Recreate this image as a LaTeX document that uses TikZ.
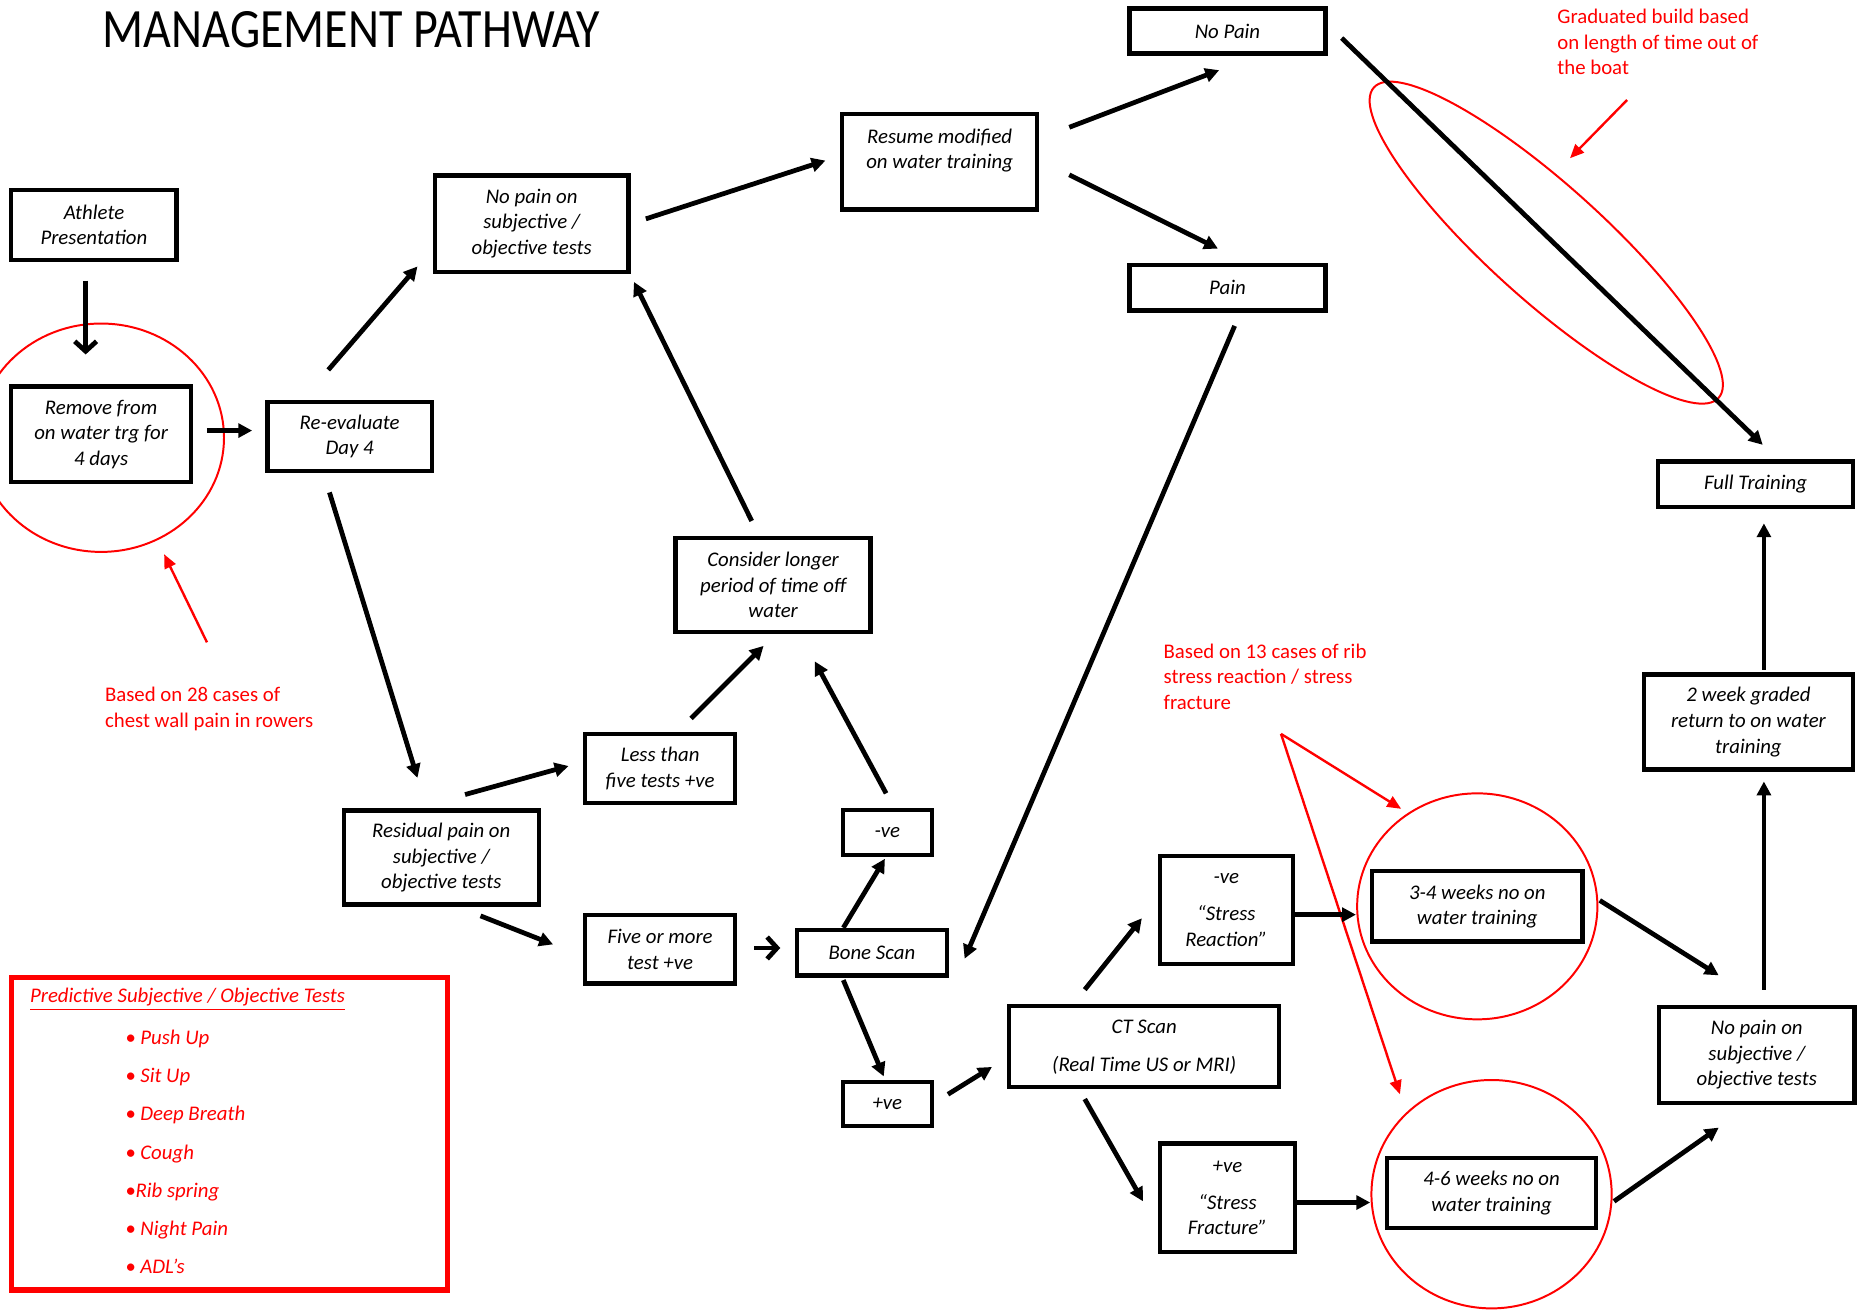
\documentclass[tikz,border=0pt]{standalone}
\usepackage{fontspec}
\setmainfont{Carlito}
\usetikzlibrary{arrows.meta}
\newcommand\boxfont{\fontsize{10.5}{12.9}\selectfont\itshape}
\newcommand\redfont{\fontsize{10.5}{12.9}\selectfont}
\begin{document}
\begin{tikzpicture}[x=0.6pt,y=-0.6pt,
  box/.style={draw, line width=2.2pt, inner sep=0pt, align=center, font=\boxfont},
  arr/.style={line width=2.4pt, -{Triangle[length=7pt,width=7pt]}},
  varr/.style={line width=2.4pt, -{Straight Barb[length=5pt,width=11pt]}},
  rarr/.style={red, line width=1.2pt, -{Triangle[length=7pt,width=6pt]}},
  ring/.style={red, line width=1pt},
  redtxt/.style={text=red, inner sep=0pt, align=left, font=\redfont}]
\useasboundingbox (0,0) rectangle (1568,1102);
\fill[white] (0,0) rectangle (1568,1102);
\clip (0,0) rectangle (1568,1102);

% title
\node[anchor=west, inner sep=0pt, font=\fontsize{28}{30}\selectfont] (title) at (86,25) {\scalebox{0.865}[1]{MANAGEMENT PATHWAY}};

% boxes
\node[box, minimum width=83.4pt, minimum height=35.4pt] (AP) at (79,189) {Athlete\\Presentation};
\node[box, minimum width=90.6pt, minimum height=48pt] (RW) at (85,365) {Remove from\\on water trg for\\4 days};
\node[box, minimum width=82.8pt, minimum height=34.8pt] (RE) at (294,367) {Re-evaluate\\Day 4};
\node[box, minimum width=97.8pt, minimum height=48.6pt] (NP1) at (447,188) {No pain on\\subjective /\\objective tests};
\node[box, minimum width=98.4pt, minimum height=48pt] (RM) at (790,136) {Resume modified\\on water training\\~};
\node[box, minimum width=99pt, minimum height=22.8pt] (NoPain) at (1032,26) {No Pain};
\node[box, minimum width=99pt, minimum height=22.8pt] (Pain) at (1032,242) {Pain};
\node[box, minimum width=98.4pt, minimum height=22.8pt] (FT) at (1476,407) {Full Training};
\node[box, minimum width=98.4pt, minimum height=47.4pt] (CL) at (650,492) {Consider longer\\period of time off\\water};
\node[box, minimum width=75.6pt, minimum height=34.8pt] (LT) at (555,646) {Less than\\five tests +ve};
\node[box, minimum width=98.4pt, minimum height=47.4pt] (RP) at (371,721) {Residual pain on\\subjective /\\objective tests};
\node[box, minimum width=75.6pt, minimum height=34.8pt] (FM) at (555,798) {Five or more\\test +ve};
\node[box, minimum width=45pt, minimum height=22.8pt] (NEG) at (746,700) {-ve};
\node[box, minimum width=75.6pt, minimum height=22.8pt] (BS) at (733,801) {Bone Scan};
\node[box, minimum width=45pt, minimum height=22.2pt] (POS) at (746,928) {+ve};
\node[box, minimum width=136.2pt, minimum height=40.8pt] (CT) at (962,880) {CT Scan\\[6.3pt](Real Time US or MRI)};
\node[box, minimum width=67.2pt, minimum height=54.6pt] (SR) at (1031,765) {-ve\\[5.7pt]“Stress\\Reaction”};
\node[box, minimum width=67.8pt, minimum height=54.6pt] (SF) at (1032,1007) {+ve\\[5.7pt]“Stress\\Fracture”};
\node[box, minimum width=106.2pt, minimum height=35.4pt] (W34) at (1242,762) {3-4 weeks no on\\water training};
\node[box, minimum width=105.6pt, minimum height=35.4pt] (W46) at (1254,1003) {4-6 weeks no on\\water training};
\node[box, minimum width=98.4pt, minimum height=48.6pt] (NP2) at (1477,887) {No pain on\\subjective /\\objective tests};
\node[box, minimum width=105.6pt, minimum height=48pt] (GR) at (1470,607) {2 week graded\\return to on water\\training};

% predictive tests box
\node[draw=red, line width=2.6pt, minimum width=219.6pt, minimum height=157.8pt, inner sep=0pt] (PRED) at (193,953) {};
\node[redtxt, anchor=west, font=\boxfont] (PH) at (25,840) {\underline{Predictive Subjective / Objective Tests}};
\node[redtxt, anchor=west, font={\fontsize{10.5}{19.3}\selectfont\itshape}] (PL) at (105,968.5)
  {• Push Up\\• Sit Up\\• Deep Breath\\• Cough\\•Rib spring\\• Night Pain\\• ADL’s};

% red notes
\node[redtxt, anchor=west] (N1) at (1309,35.5) {Graduated build based\\on length of time out of\\the boat};
\node[redtxt, anchor=west] (N2) at (88,596) {Based on 28 cases of\\chest wall pain in rowers};
\node[redtxt, anchor=west] (N3) at (978,569) {Based on 13 cases of rib\\stress reaction / stress\\fracture};

% red rings
\draw[ring] (85,368) ellipse [x radius=62pt, y radius=57.6pt];
\draw[ring] (1242,762) ellipse [x radius=60.6pt, y radius=57pt];
\draw[ring] (1254,1004) ellipse [x radius=60.6pt, y radius=57.6pt];
\draw[ring, rotate around={-42:(1300,204)}] (1300,204) ellipse [x radius=117pt, y radius=29pt];

% red arrows
\coordinate (r1a) at (174,540); \coordinate (r1b) at (138,466);
\coordinate (r2a) at (1368,84); \coordinate (r2b) at (1320,133);
\coordinate (r3a) at (1077,617); \coordinate (r3b) at (1178,680); \coordinate (r3c) at (1177,920);
\draw[rarr] (r1a) -- (r1b);
\draw[rarr] (r2a) -- (r2b);
\draw[rarr] (r3a) -- (r3b);
\draw[rarr] (r3a) -- (r3c);

% black connectors
\draw[varr] ([shift={(-7,47)}]AP.center) -- ([shift={(-13,-67)}]RW.center);
\draw[arr] ([shift={(89,-3)}]RW.center) -- ([shift={(-82,-5)}]RE.center);
\draw[arr] ([shift={(-18,-56)}]RE.center) -- ([shift={(-96,36)}]NP1.center);
\draw[arr] ([shift={(-17,47)}]RE.center) -- ([shift={(-20,-67)}]RP.center);
\draw[arr] ([shift={(96,-4)}]NP1.center) -- ([shift={(-96,-1)}]RM.center);
\draw[arr] ([shift={(109,-29)}]RM.center) -- ([shift={(-7,33)}]NoPain.center);
\draw[arr] ([shift={(109,11)}]RM.center) -- ([shift={(-8,-33)}]Pain.center);
\draw[arr] ([shift={(96,6)}]NoPain.center) -- ([shift={(6,-33)}]FT.center);
\draw[arr] ([shift={(6,32)}]Pain.center) -- ([shift={(78,5)}]BS.center);
\draw[arr] ([shift={(-18,-54)}]CL.center) -- ([shift={(86,49)}]NP1.center);
\draw[arr] ([shift={(20,-53)}]RP.center) -- ([shift={(-77,-2)}]LT.center);
\draw[arr] ([shift={(33,49)}]RP.center) -- ([shift={(-90,-4)}]FM.center);
\draw[arr] ([shift={(26,-42)}]LT.center) -- ([shift={(-8,51)}]CL.center);
\draw[varr] ([shift={(79,-1)}]FM.center) -- ([shift={(-77,-4)}]BS.center);
\draw[arr] ([shift={(-24,-21)}]BS.center) -- ([shift={(-2,22)}]NEG.center);
\draw[arr] ([shift={(-1,-33)}]NEG.center) -- ([shift={(35,64)}]CL.center);
\draw[arr] ([shift={(-24,23)}]BS.center) -- ([shift={(-3,-23)}]POS.center);
\draw[arr] ([shift={(51,-8)}]POS.center) -- ([shift={(-128,17)}]CT.center);
\draw[arr] ([shift={(-50,-48)}]CT.center) -- ([shift={(-71,7)}]SR.center);
\draw[arr] ([shift={(-50,44)}]CT.center) -- ([shift={(-71,3)}]SF.center);
\draw[arr] ([shift={(58,4)}]SR.center) -- ([shift={(-102,7)}]W34.center);
\draw[arr] ([shift={(58,4)}]SF.center) -- ([shift={(-102,8)}]W46.center);
\draw[arr] ([shift={(103,-5)}]W34.center) -- ([shift={(-32,-67)}]NP2.center);
\draw[arr] ([shift={(103,7)}]W46.center) -- ([shift={(-32,61)}]NP2.center);
\draw[arr] ([shift={(6,-55)}]NP2.center) -- ([shift={(13,50)}]GR.center);
\draw[arr] ([shift={(13,-44)}]GR.center) -- ([shift={(7,33)}]FT.center);
\end{tikzpicture}
\end{document}
